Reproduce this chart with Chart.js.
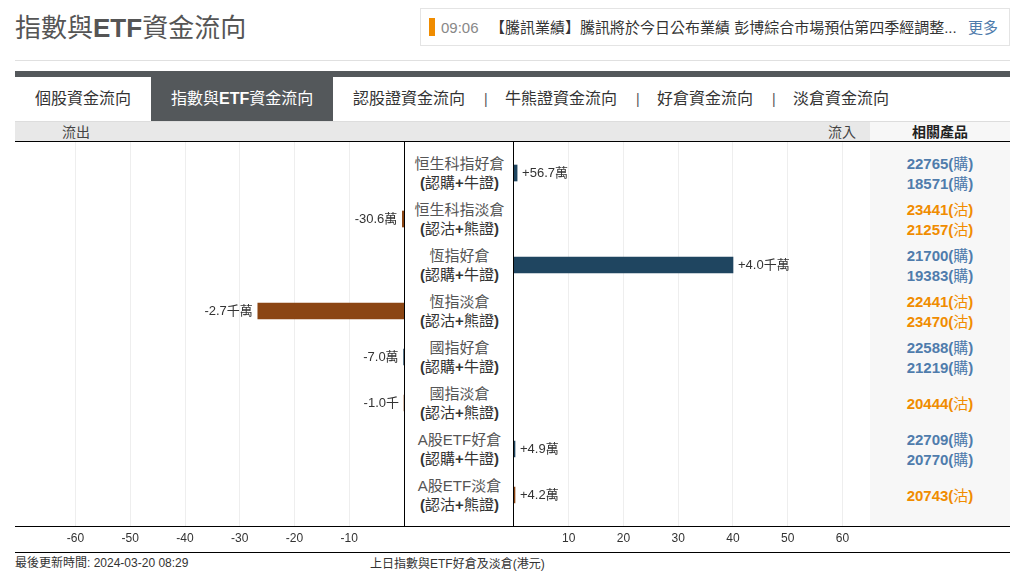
<!DOCTYPE html>
<html lang="zh-Hant">

<head>
    <meta charset="UTF-8">
    <title>指數與ETF資金流向</title>
    <style>
        html, body {
            margin: 0;
            padding: 0;
            background: #fff;
            overflow: hidden;
        }

        body {
            width: 1017px;
            height: 585px;
            position: relative;
            font-family: "Liberation Sans", "Noto Sans CJK TC", sans-serif;
            color: #333;
        }

        .abs { position: absolute; white-space: nowrap; }
        .title { left: 15px; top: 10px; font-size: 26px; line-height: 36px; color: #555; }
        .ticker { left: 420px; top: 8px; width: 588px; height: 36px; border: 1px solid #e4e4e4; }
        .ticker-mark { left: 429px; top: 18px; width: 6px; height: 18px; background: #f08c00; }
        .ticker-time { left: 441px; top: 19px; font-size: 15px; line-height: 18px; color: #888; }
        .ticker-text { left: 490px; top: 19px; font-size: 15px; line-height: 18px; color: #333; }
        .ticker-more { left: 968px; top: 19px; font-size: 15px; line-height: 18px; color: #4f7cac; }
        .tab { top: 89px; font-size: 16px; line-height: 20px; color: #333; }
        .tab-sep { top: 89px; font-size: 14px; line-height: 20px; color: #555; }
        .tab-on { left: 151px; top: 77px; width: 182px; height: 44px; background: #54585b; }
        .head-band { left: 15px; top: 121px; width: 855px; height: 20px; background: #e8e8e8; border-top: 1px solid #ddd; box-sizing: border-box; }
        .head-side { left: 870px; top: 121px; width: 140px; height: 20px; background: #f7f7f7; border-top: 1px solid #ddd; box-sizing: border-box; }
        .head-text { top: 123px; font-size: 14px; line-height: 18px; color: #444; }
        .side-bg { left: 870px; top: 142px; width: 140px; height: 384px; background: #f7f7f7; }
        .rule { left: 15px; width: 995px; height: 1px; background: #000; }
        .vrule { top: 142px; width: 1px; height: 384px; background: #000; }
        .row { width: 109px; left: 405px; height: 46px; display: flex; flex-direction: column; justify-content: center; align-items: center; font-size: 15px; line-height: 19.5px; }
        .row .name { color: #555; }
        .row .kind { color: #333; font-weight: bold; }
        .prod { left: 870px; width: 140px; height: 46px; display: flex; flex-direction: column; justify-content: center; align-items: center; font-size: 15px; line-height: 19.5px; font-weight: bold; padding-top: 1px; box-sizing: border-box; }
        .cjk { font-weight: normal; }
        canvas { position: absolute; display: block; }
        .foot { font-size: 12px; line-height: 15px; color: #333; }
    </style>
    <script src="https://cdn.jsdelivr.net/npm/chart.js"></script>
</head>

<body>
    <div class="abs title">指數與<b>ETF</b>資金流向</div>
    <div class="abs ticker"></div>
    <div class="abs ticker-mark"></div>
    <div class="abs ticker-time">09:06</div>
    <div class="abs ticker-text">【騰訊業績】騰訊將於今日公布業績 彭博綜合市場預估第四季經調整...</div>
    <div class="abs ticker-more">更多</div>
    <div class="abs" style="left:15px;top:60px;width:995px;height:1px;background:#e0e0e0"></div>
    <div class="abs" style="left:15px;top:71px;width:995px;height:6px;background:#54585b"></div>

    <div class="abs tab-on"></div>
    <div class="abs tab" style="left:35px">個股資金流向</div>
    <div class="abs tab" style="left:171px;color:#fff">指數與<b>ETF</b>資金流向</div>
    <div class="abs tab" style="left:353px">認股證資金流向</div>
    <div class="abs tab-sep" style="left:484px">|</div>
    <div class="abs tab" style="left:505px">牛熊證資金流向</div>
    <div class="abs tab-sep" style="left:636px">|</div>
    <div class="abs tab" style="left:657px">好倉資金流向</div>
    <div class="abs tab-sep" style="left:772px">|</div>
    <div class="abs tab" style="left:793px">淡倉資金流向</div>

    <div class="abs head-band"></div>
    <div class="abs head-side"></div>
    <div class="abs head-text" style="left:62px">流出</div>
    <div class="abs head-text" style="left:828px">流入</div>
    <div class="abs head-text" style="left:870px;width:140px;text-align:center;font-weight:bold;color:#222">相關產品</div>
    <div class="abs side-bg"></div>

    <canvas id="flow-out" width="390" height="410" style="left:15px;top:142px"></canvas>
    <canvas id="flow-in" width="356" height="410" style="left:514px;top:142px"></canvas>

    <div class="abs rule" style="top:141px"></div>
    <div class="abs rule" style="top:526px"></div>
    <div class="abs rule" style="top:552px"></div>
    <div class="abs vrule" style="left:404px"></div>
    <div class="abs vrule" style="left:513px"></div>

    <div id="rows"></div>

    <div class="abs foot" style="left:15px;top:556px">最後更新時間: 2024-03-20 08:29</div>
    <div class="abs foot" style="left:370px;top:557px">上日指數與ETF好倉及淡倉(港元)</div>

    <script>
        // 數值單位:百萬港元
        const rowNames = ['恒生科指好倉', '恒生科指淡倉', '恆指好倉', '恆指淡倉', '國指好倉', '國指淡倉', 'A股ETF好倉', 'A股ETF淡倉'];
        const rowKinds = ['(認購+牛證)', '(認沽+熊證)', '(認購+牛證)', '(認沽+熊證)', '(認購+牛證)', '(認沽+熊證)', '(認購+牛證)', '(認沽+熊證)'];
        const flowValues = [0.567, -0.306, 40, -26.7, -0.07, -0.001, 0.049, 0.042];
        const flowLabels = ['+56.7萬', '-30.6萬', '+4.0千萬', '-2.7千萬', '-7.0萬', '-1.0千', '+4.9萬', '+4.2萬'];
        const products = [
            ['22765(購)', '18571(購)'],
            ['23441(沽)', '21257(沽)'],
            ['21700(購)', '19383(購)'],
            ['22441(沽)', '23470(沽)'],
            ['22588(購)', '21219(購)'],
            ['20444(沽)'],
            ['22709(購)', '20770(購)'],
            ['20743(沽)']
        ];
        const leftTicks = [-60, -50, -40, -30, -20, -10];
        const rightTicks = [10, 20, 30, 40, 50, 60];

        const bullColor = '#1f4560';
        const bearColor = '#8b4513';
        const PX_PER_UNIT = 5.475;

        // 中文字不加粗,括號同加號加粗
        function lightCjk(text) {
            return text.replace(/[\u4e00-\u9fff]+/g, '<span class="cjk">$&</span>');
        }

        // 中間名稱及右邊相關產品
        const rowsBox = document.getElementById('rows');
        rowNames.forEach((name, i) => {
            const top = 150 + i * 46;
            const row = document.createElement('div');
            row.className = 'abs row';
            row.style.top = top + 'px';
            row.innerHTML = `<div class="name">${name}</div><div class="kind">${lightCjk(rowKinds[i])}</div>`;
            rowsBox.appendChild(row);

            const prod = document.createElement('div');
            prod.className = 'abs prod';
            prod.style.top = top + 'px';
            prod.style.color = i % 2 === 0 ? '#4f7cac' : '#f08c00';
            prod.innerHTML = products[i].map(p => `<div>${lightCjk(p)}</div>`).join('');
            rowsBox.appendChild(prod);
        });

        // 在柱旁寫數值
        const valueLabelPlugin = {
            id: 'valueLabels',
            afterDatasetsDraw(chart) {
                const ctx = chart.ctx;
                const meta = chart.getDatasetMeta(0);
                ctx.save();
                ctx.font = '13px "Liberation Sans", "Noto Sans CJK TC", sans-serif';
                ctx.fillStyle = '#333';
                ctx.textBaseline = 'middle';
                meta.data.forEach((bar, i) => {
                    const index = chart.data.datasets[0].data[i].index;
                    const isOut = flowValues[index] < 0;
                    ctx.textAlign = isOut ? 'right' : 'left';
                    ctx.fillText(flowLabels[index], bar.x + (isOut ? -5 : 5), bar.y);
                });
                ctx.restore();
            }
        };

        function makeChart(canvasId, tickList, xMin, xMax, keep, minBar) {
            const points = [];
            flowValues.forEach((v, i) => {
                if (keep(v)) points.push({ x: v, y: i, index: i });
            });
            return new Chart(document.getElementById(canvasId), {
                type: 'bar',
                data: {
                    datasets: [{
                        data: points,
                        backgroundColor: points.map(p => p.index % 2 === 0 ? bullColor : bearColor),
                        barThickness: 16,
                        minBarLength: minBar,
                        borderWidth: 0
                    }]
                },
                options: {
                    indexAxis: 'y',
                    responsive: false,
                    animation: false,
                    events: [],
                    layout: { padding: 0 },
                    plugins: { legend: { display: false }, tooltip: { enabled: false } },
                    scales: {
                        x: {
                            type: 'linear',
                            min: xMin,
                            max: xMax,
                            afterBuildTicks: axis => { axis.ticks = tickList.map(v => ({ value: v })); },
                            afterFit: axis => { axis.height = 26; },
                            border: { display: false },
                            grid: { color: '#eeeeee', drawTicks: false },
                            ticks: {
                                autoSkip: false,
                                maxRotation: 0,
                                padding: 5,
                                color: '#333',
                                font: { size: 12, family: '"Liberation Sans", sans-serif' }
                            }
                        },
                        y: {
                            type: 'linear',
                            display: false,
                            reverse: true,
                            offset: false,
                            min: -0.674,
                            max: 7.674
                        }
                    }
                },
                plugins: [valueLabelPlugin]
            });
        }

        // 左邊零點落在 x=404 黑線上
        makeChart('flow-out', leftTicks, -389 / PX_PER_UNIT, 1 / PX_PER_UNIT, v => v < 0, 0);
        makeChart('flow-in', rightTicks, 0, 356 / PX_PER_UNIT, v => v >= 0, 1);
    </script>
</body>

</html>
